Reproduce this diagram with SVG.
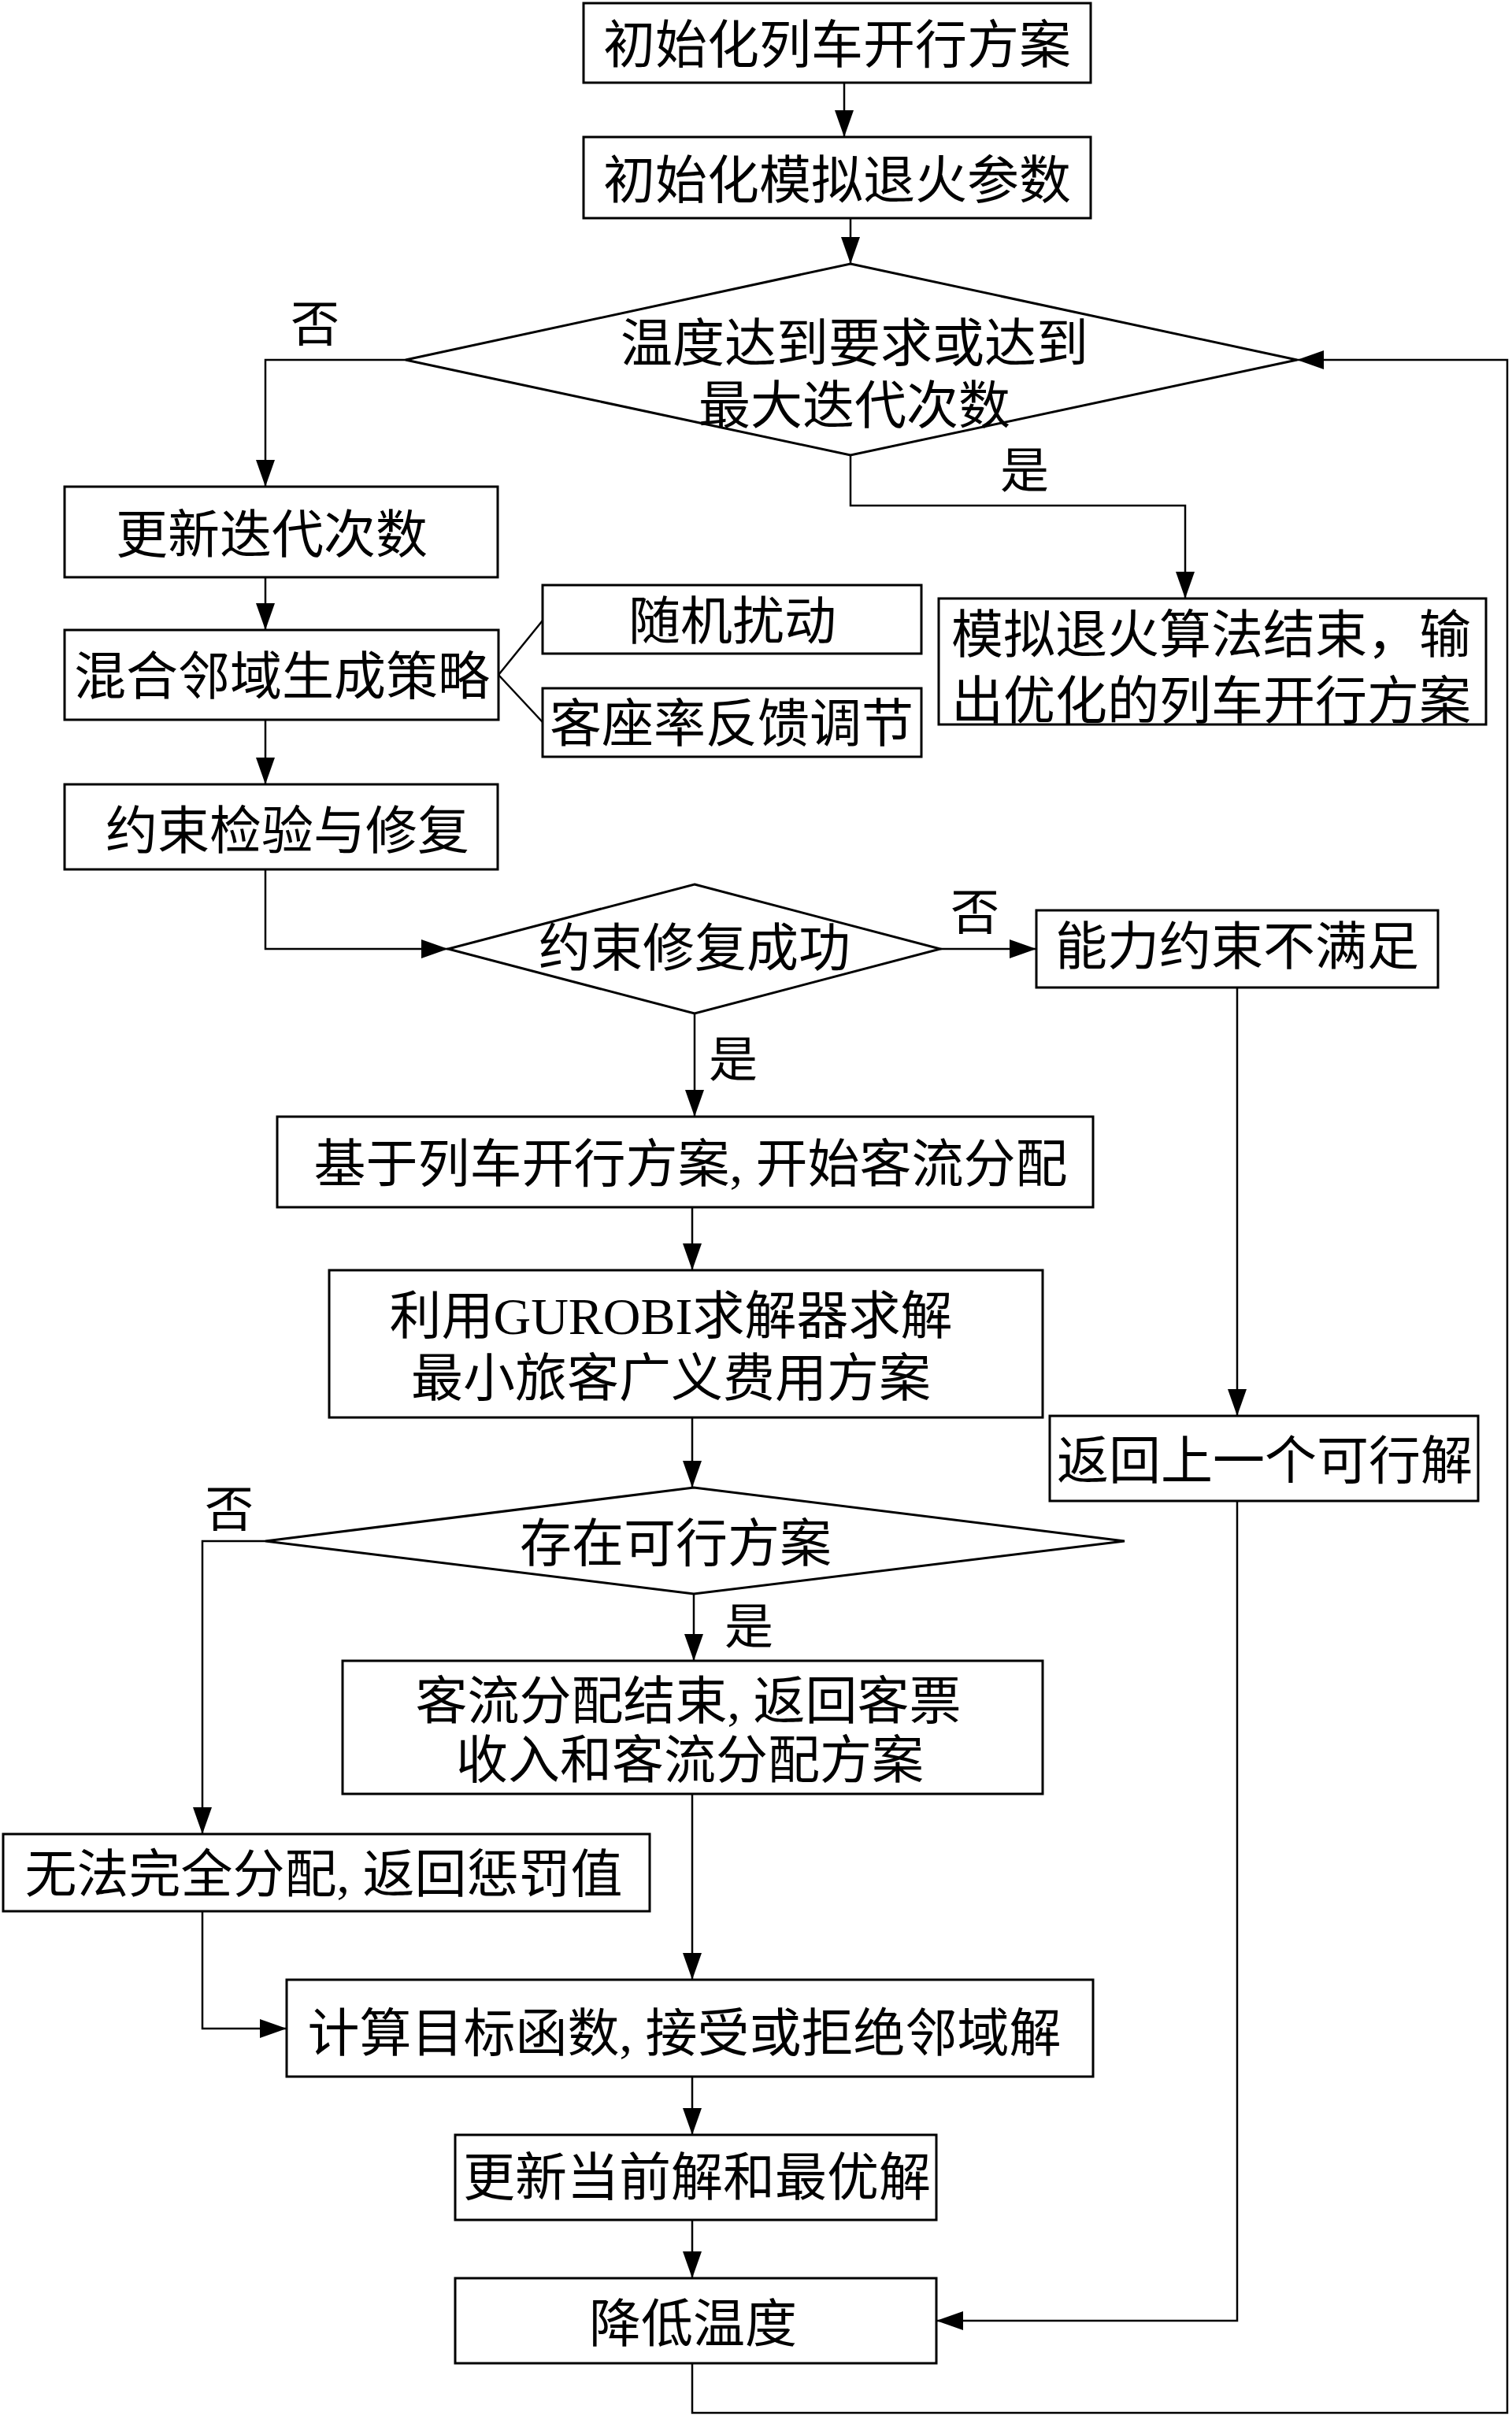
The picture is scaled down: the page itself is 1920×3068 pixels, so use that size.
<svg xmlns="http://www.w3.org/2000/svg" width="1920" height="3068" viewBox="0 0 1920 3068">
<style>
.box{fill:#fff;stroke:#000;stroke-width:3}
.con{fill:none;stroke:#000;stroke-width:2.5}
.t{font-family:"Liberation Serif","Noto Sans CJK SC",serif;font-size:66px;fill:#000;text-anchor:middle}
.lbl{font-family:"Liberation Serif","Noto Sans CJK SC",serif;font-size:62px;fill:#000;text-anchor:middle}
</style>
<defs>
<marker id="arr" markerWidth="34" markerHeight="24" refX="34" refY="12" orient="auto" markerUnits="userSpaceOnUse">
<path d="M0,0 L34,12 L0,24 z" fill="#000"/>
</marker>
</defs>
<rect width="1920" height="3068" fill="#fff"/>
<g id="connectors">
<path class="con" d="M1072,105 V174" marker-end="url(#arr)"/>
<path class="con" d="M1080,277 V335" marker-end="url(#arr)"/>
<path class="con" d="M515,457 H337 V618" marker-end="url(#arr)"/>
<path class="con" d="M1080,578 V642 H1505 V760" marker-end="url(#arr)"/>
<path class="con" d="M337,733 V800" marker-end="url(#arr)"/>
<path class="con" d="M633,857 L689,788"/>
<path class="con" d="M633,857 L689,917"/>
<path class="con" d="M337,914 V996" marker-end="url(#arr)"/>
<path class="con" d="M337,1104 V1205 H569" marker-end="url(#arr)"/>
<path class="con" d="M1194,1205 H1316" marker-end="url(#arr)"/>
<path class="con" d="M882,1287 V1418" marker-end="url(#arr)"/>
<path class="con" d="M1571,1254 V1798" marker-end="url(#arr)"/>
<path class="con" d="M879,1533 V1613" marker-end="url(#arr)"/>
<path class="con" d="M879,1800 V1889" marker-end="url(#arr)"/>
<path class="con" d="M337,1957 H257 V2329" marker-end="url(#arr)"/>
<path class="con" d="M881,2024 V2109" marker-end="url(#arr)"/>
<path class="con" d="M879,2278 V2514" marker-end="url(#arr)"/>
<path class="con" d="M257,2427 V2576 H364" marker-end="url(#arr)"/>
<path class="con" d="M879,2637 V2711" marker-end="url(#arr)"/>
<path class="con" d="M879,2819 V2893" marker-end="url(#arr)"/>
<path class="con" d="M1571,1906 V2947 H1189" marker-end="url(#arr)"/>
<path class="con" d="M879,3001 V3064 H1914 V457 H1647" marker-end="url(#arr)"/>
<text class="lbl" x="400" y="434">否</text>
<text class="lbl" x="1301" y="620">是</text>
<text class="lbl" x="1238" y="1181">否</text>
<text class="lbl" x="931" y="1368">是</text>
<text class="lbl" x="291" y="1939">否</text>
<text class="lbl" x="951" y="2088">是</text>
</g>
<g id="n1"><rect class="box" x="741" y="4" width="644" height="101"/><text class="t" x="1063" y="80">初始化列车开行方案</text></g>
<g id="n2"><rect class="box" x="741" y="174" width="644" height="103"/><text class="t" x="1063" y="252">初始化模拟退火参数</text></g>
<g id="d1"><polygon class="box" points="1080,335 1647,457 1080,578 515,457"/><text class="t" x="1085" y="459">温度达到要求或达到</text><text class="t" x="1085" y="538">最大迭代次数</text></g>
<g id="n3"><rect class="box" x="82" y="618" width="550" height="115"/><text class="t" x="345" y="702">更新迭代次数</text></g>
<g id="n4"><rect class="box" x="82" y="800" width="551" height="114"/><text class="t" x="358" y="882">混合邻域生成策略</text></g>
<g id="n5"><rect class="box" x="689" y="743" width="481" height="87"/><text class="t" x="930" y="812">随机扰动</text></g>
<g id="n6"><rect class="box" x="689" y="874" width="481" height="87"/><text class="t" x="929" y="942">客座率反馈调节</text></g>
<g id="n7"><rect class="box" x="1192" y="760" width="695" height="160"/><text class="t" x="1538" y="829">模拟退火算法结束，输</text><text class="t" x="1538" y="913">出优化的列车开行方案</text></g>
<g id="n8"><rect class="box" x="82" y="996" width="550" height="108"/><text class="t" x="365" y="1078">约束检验与修复</text></g>
<g id="d2"><polygon class="box" points="882,1123 1194,1205 882,1287 569,1205"/><text class="t" x="882" y="1227">约束修复成功</text></g>
<g id="n9"><rect class="box" x="1316" y="1156" width="510" height="98"/><text class="t" x="1571" y="1225">能力约束不满足</text></g>
<g id="n10"><rect class="box" x="352" y="1418" width="1036" height="115"/><text class="t" x="877" y="1501">基于列车开行方案, 开始客流分配</text></g>
<g id="n11"><rect class="box" x="418" y="1613" width="906" height="187"/><text class="t" x="852" y="1694">利用GUROBI求解器求解</text><text class="t" x="852" y="1773">最小旅客广义费用方案</text></g>
<g id="n12"><rect class="box" x="1333" y="1798" width="544" height="108"/><text class="t" x="1606" y="1878">返回上一个可行解</text></g>
<g id="d3"><polygon class="box" points="881,1889 1428,1957 881,2024 337,1957"/><text class="t" x="858" y="1983">存在可行方案</text></g>
<g id="n13"><rect class="box" x="435" y="2109" width="889" height="169"/><text class="t" x="874" y="2183">客流分配结束, 返回客票</text><text class="t" x="876" y="2258">收入和客流分配方案</text></g>
<g id="n14"><rect class="box" x="4" y="2329" width="821" height="98"/><text class="t" x="411" y="2403">无法完全分配, 返回惩罚值</text></g>
<g id="n15"><rect class="box" x="364" y="2514" width="1024" height="123"/><text class="t" x="869" y="2605">计算目标函数, 接受或拒绝邻域解</text></g>
<g id="n16"><rect class="box" x="578" y="2711" width="611" height="108"/><text class="t" x="885" y="2788">更新当前解和最优解</text></g>
<g id="n17"><rect class="box" x="578" y="2893" width="611" height="108"/><text class="t" x="880" y="2974">降低温度</text></g>
</svg>
